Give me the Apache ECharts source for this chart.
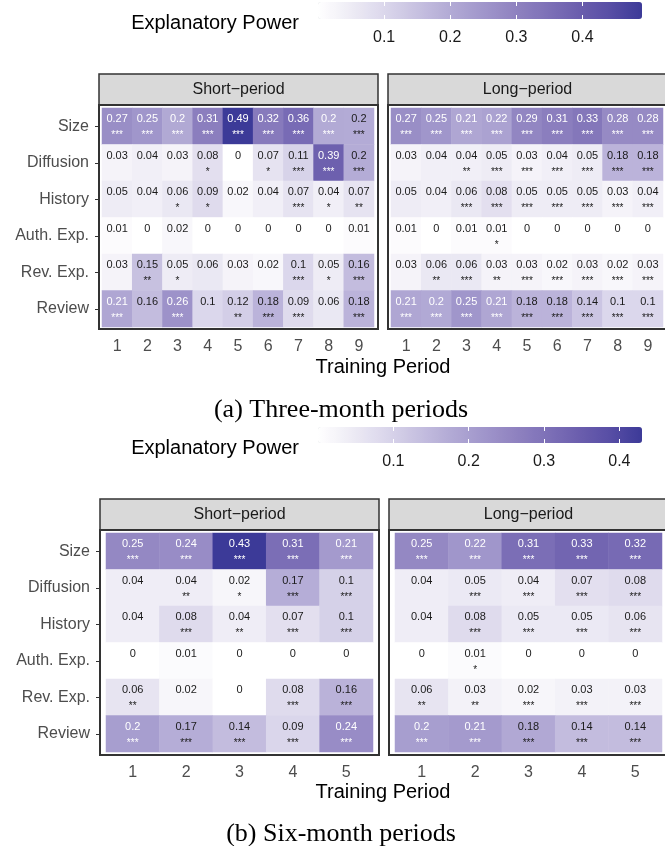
<!DOCTYPE html>
<html>
<head>
<meta charset="utf-8">
<title>Explanatory power by training period</title>
<script src="https://cdn.jsdelivr.net/npm/echarts@6/dist/echarts.min.js"></script>
<style>
  html, body { margin: 0; padding: 0; background: #fff; }
  #chartBox { width: 665px; height: 846px; }
</style>
</head>
<body>
<div id="chartBox"></div>
<script>
var features = ["Size", "Diffusion", "History", "Auth. Exp.", "Rev. Exp.", "Review"];
var periods3 = ["1", "2", "3", "4", "5", "6", "7", "8", "9"];
var periods6 = ["1", "2", "3", "4", "5"];
var legendTicks = [0.1, 0.2, 0.3, 0.4];

// (a) three-month periods, one row per feature
var shortThree = [
  [0.27, 0.25, 0.204, 0.31, 0.49, 0.32, 0.36, 0.202, 0.198],
  [0.03, 0.04, 0.03, 0.08, 0, 0.07, 0.11, 0.39, 0.196],
  [0.05, 0.04, 0.06, 0.09, 0.02, 0.04, 0.07, 0.04, 0.07],
  [0.01, 0, 0.02, 0, 0, 0, 0, 0, 0.01],
  [0.03, 0.15, 0.05, 0.06, 0.03, 0.02, 0.1, 0.05, 0.16],
  [0.21, 0.16, 0.26, 0.1, 0.12, 0.18, 0.09, 0.06, 0.18]
];
var shortThreeSig = [
  ["***", "***", "***", "***", "***", "***", "***", "***", "***"],
  ["", "", "", "*", "", "*", "***", "***", "***"],
  ["", "", "*", "*", "", "", "***", "*", "**"],
  ["", "", "", "", "", "", "", "", ""],
  ["", "**", "*", "", "", "", "***", "*", "***"],
  ["***", "", "***", "", "**", "***", "***", "", "***"]
];
var longThree = [
  [0.27, 0.25, 0.21, 0.22, 0.29, 0.31, 0.33, 0.28, 0.28],
  [0.03, 0.04, 0.04, 0.05, 0.03, 0.04, 0.05, 0.18, 0.18],
  [0.05, 0.04, 0.06, 0.08, 0.05, 0.05, 0.05, 0.03, 0.04],
  [0.01, 0, 0.01, 0.01, 0, 0, 0, 0, 0],
  [0.03, 0.06, 0.06, 0.03, 0.03, 0.02, 0.03, 0.02, 0.03],
  [0.21, 0.203, 0.25, 0.21, 0.18, 0.18, 0.14, 0.1, 0.1]
];
var longThreeSig = [
  ["***", "***", "***", "***", "***", "***", "***", "***", "***"],
  ["", "", "**", "***", "***", "***", "***", "***", "***"],
  ["", "", "***", "***", "***", "***", "***", "***", "***"],
  ["", "", "", "*", "", "", "", "", ""],
  ["", "**", "***", "**", "***", "***", "***", "***", "***"],
  ["***", "***", "***", "***", "***", "***", "***", "***", "***"]
];

// (b) six-month periods
var shortSix = [
  [0.25, 0.24, 0.43, 0.31, 0.21],
  [0.04, 0.04, 0.02, 0.17, 0.1],
  [0.04, 0.08, 0.04, 0.07, 0.1],
  [0, 0.01, 0, 0, 0],
  [0.06, 0.02, 0, 0.08, 0.16],
  [0.202, 0.17, 0.14, 0.09, 0.24]
];
var shortSixSig = [
  ["***", "***", "***", "***", "***"],
  ["", "**", "*", "***", "***"],
  ["", "***", "**", "***", "***"],
  ["", "", "", "", ""],
  ["**", "", "", "***", "***"],
  ["***", "***", "***", "***", "***"]
];
var longSix = [
  [0.25, 0.22, 0.31, 0.33, 0.32],
  [0.04, 0.05, 0.04, 0.07, 0.08],
  [0.04, 0.08, 0.05, 0.05, 0.06],
  [0, 0.01, 0, 0, 0],
  [0.06, 0.03, 0.02, 0.03, 0.03],
  [0.202, 0.21, 0.18, 0.14, 0.14]
];
var longSixSig = [
  ["***", "***", "***", "***", "***"],
  ["", "***", "***", "***", "***"],
  ["", "***", "***", "***", "***"],
  ["", "*", "", "", ""],
  ["**", "**", "***", "***", "***"],
  ["***", "***", "***", "***", "***"]
];

var FONT = '"Liberation Sans", Arial, Helvetica, sans-serif';
var SERIF = '"Liberation Serif", "Times New Roman", serif';
var ramp = ["#ffffff", "#eeecf5", "#dcd8ec", "#c8c2e1", "#b4acd6", "#a298cc",
            "#9184c1", "#7f72b8", "#6c5fae", "#584ea5", "#3c3a98"];

function maxOf(a, b) {
  var m = 0;
  a.concat(b).forEach(function (row) {
    row.forEach(function (v) { if (v > m) m = v; });
  });
  return m;
}
var topMax = maxOf(shortThree, longThree);
var botMax = maxOf(shortSix, longSix);

function cells(values, sigs) {
  var out = [];
  values.forEach(function (row, i) {
    row.forEach(function (v, j) {
      out.push({ value: [j, i, v], sig: sigs[i][j] });
    });
  });
  return out;
}

var cellLabel = {
  show: true,
  offset: [0, 3],
  formatter: function (p) {
    var v = p.value[2];
    var k = v > 0.2 ? "w" : "b";
    var s = p.data.sig || " ";
    return "{" + k + "|" + String(+v.toFixed(2)) + "}\n{" + k + "s|" + s + "}";
  },
  rich: {
    b: { color: "#1a1a1a", fontSize: 11, lineHeight: 12, fontFamily: FONT },
    w: { color: "#ffffff", fontSize: 11, lineHeight: 12, fontFamily: FONT },
    bs: { color: "#1a1a1a", fontSize: 10, lineHeight: 20, fontFamily: FONT },
    ws: { color: "#ffffff", fontSize: 10, lineHeight: 20, fontFamily: FONT }
  }
};

function heat(idx, values, sigs) {
  return {
    type: "heatmap",
    xAxisIndex: idx,
    yAxisIndex: idx,
    data: cells(values, sigs),
    label: cellLabel,
    itemStyle: { borderWidth: 0 },
    emphasis: { disabled: true }
  };
}

function catX(idx, cats, off) {
  return {
    type: "category", gridIndex: idx, data: cats, offset: off,
    axisLine: { show: false },
    axisTick: { alignWithLabel: true, length: 4, lineStyle: { color: "#333", width: 1 } },
    axisLabel: { color: "#4d4d4d", fontSize: 16, margin: 10, fontFamily: FONT },
    splitLine: { show: false }
  };
}

function catY(idx, off, labels) {
  return {
    type: "category", gridIndex: idx, data: features, inverse: true, offset: off,
    axisLine: { show: false },
    axisTick: { show: labels, alignWithLabel: true, length: 4, lineStyle: { color: "#333", width: 1 } },
    axisLabel: { show: labels, color: "#4d4d4d", fontSize: 16, margin: 10, fontFamily: FONT },
    splitLine: { show: false }
  };
}

function legendAxis(idx, max, pos) {
  return {
    type: "value", gridIndex: idx, min: 0, max: max, interval: 0.1, position: pos, z: 10,
    axisLine: { show: false },
    splitLine: { show: false },
    axisTick: { inside: true, length: 4, customValues: legendTicks, lineStyle: { color: "#fff", width: 1 } },
    axisLabel: {
      show: pos === "bottom", customValues: legendTicks, margin: 11,
      color: "#1a1a1a", fontSize: 16, fontFamily: FONT,
      formatter: function (v) {
        return legendTicks.indexOf(+v.toFixed(2)) >= 0 ? v.toFixed(1) : "";
      }
    }
  };
}

// strip on top of a facet panel, then the panel frame
function panel(x, y, w, ph, label) {
  return [
    { type: "rect", z: 50, shape: { x: x, y: y, width: w, height: 31 },
      style: { fill: "#d9d9d9", stroke: "#333", lineWidth: 1.5 } },
    { type: "text", z: 51, x: x + w / 2, y: y + 16,
      style: { text: label, fill: "#1a1a1a", font: "16px " + FONT, align: "center", verticalAlign: "middle" } },
    { type: "rect", z: 50, shape: { x: x, y: y + 31, width: w, height: ph },
      style: { fill: null, stroke: "#333", lineWidth: 2 } }
  ];
}

function txt(x, y, s, font, align) {
  return { type: "text", z: 51, x: x, y: y,
    style: { text: s, fill: "#000", font: font, align: align || "center", verticalAlign: "middle" } };
}

var graphics = []
  .concat(panel(99, 74, 279, 224, "Short\u2212period"))
  .concat(panel(388, 74, 279, 224, "Long\u2212period"))
  .concat(panel(100, 499, 279, 225, "Short\u2212period"))
  .concat(panel(389, 499, 279, 225, "Long\u2212period"))
  .concat([
    txt(299, 23, "Explanatory Power", "20px " + FONT, "right"),
    txt(299, 448, "Explanatory Power", "20px " + FONT, "right"),
    txt(383, 367, "Training Period", "20px " + FONT),
    txt(383, 792, "Training Period", "20px " + FONT),
    txt(341, 410, "(a) Three-month periods", "26px " + SERIF),
    txt(341, 834, "(b) Six-month periods", "26px " + SERIF)
  ]);

var chart = echarts.init(document.getElementById("chartBox"));
var option = {
  animation: false,
  textStyle: { fontFamily: FONT },
  grid: [
    { left: 102, top: 108, width: 272, height: 219 },
    { left: 391, top: 108, width: 272, height: 219 },
    { left: 106, top: 533, width: 267, height: 219 },
    { left: 395, top: 533, width: 267, height: 219 },
    { left: 318, top: 2, width: 324, height: 17 },
    { left: 318, top: 427, width: 324, height: 16 }
  ],
  xAxis: [
    catX(0, periods3, 2), catX(1, periods3, 2),
    catX(2, periods6, 3), catX(3, periods6, 3),
    legendAxis(4, topMax, "bottom"), legendAxis(4, topMax, "top"),
    legendAxis(5, botMax, "bottom"), legendAxis(5, botMax, "top")
  ],
  yAxis: [
    catY(0, 3, true), catY(1, 3, false),
    catY(2, 6, true), catY(3, 6, false),
    { type: "value", gridIndex: 4, show: false },
    { type: "value", gridIndex: 5, show: false }
  ],
  visualMap: [
    { type: "continuous", seriesIndex: [0, 1], min: 0, max: topMax,
      orient: "horizontal", left: 318, top: 2, itemWidth: 17, itemHeight: 324,
      padding: 0, calculable: false, hoverLink: false, inRange: { color: ramp } },
    { type: "continuous", seriesIndex: [2, 3], min: 0, max: botMax,
      orient: "horizontal", left: 318, top: 427, itemWidth: 16, itemHeight: 324,
      padding: 0, calculable: false, hoverLink: false, inRange: { color: ramp } }
  ],
  series: [
    heat(0, shortThree, shortThreeSig),
    heat(1, longThree, longThreeSig),
    heat(2, shortSix, shortSixSig),
    heat(3, longSix, longSixSig)
  ],
  graphic: { elements: graphics }
};
chart.setOption(option);
</script>
</body>
</html>
